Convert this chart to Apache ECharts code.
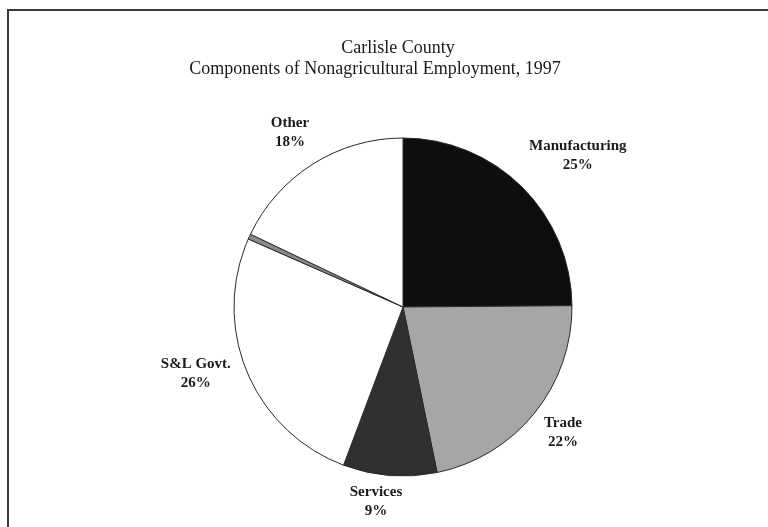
<html>
<head>
    <meta charset="utf-8">
    <title>Carlisle County</title>
    <script src="https://cdn.jsdelivr.net/npm/echarts@6/dist/echarts.min.js"></script>
    <style>
        html, body { margin: 0; padding: 0; background: #fff; }
        #main { width: 768px; height: 527px; }
    </style>
</head>
<body>
    <div id="main"></div>
    <script type="text/javascript">
        // data (percent of nonagricultural employment)
        var categories = ['Manufacturing', 'Trade', 'Services', 'S&L Govt.', 'Unallocated', 'Other'];
        var shares = [25, 22, 9, 26, 0.5, 18];
        var labelled = [true, true, true, true, false, true];

        var titleLines = ['Carlisle County', 'Components of Nonagricultural Employment, 1997'];

        // fills, in the same order as the slices
        var fills = ['#0e0e0e', '#a6a6a6', '#303030', '#ffffff', '#8a8a8a', '#ffffff'];
        // small hand nudges so the labels sit where the original ones were put
        var labelNudge = [[-12, -17], [-11, 7], [19, 6], [7, -7], [0, 0], [12, -15]];

        var myChart = echarts.init(document.getElementById('main'), null, { renderer: 'canvas' });

        var pieData = categories.map(function (name, i) {
            return {
                name: name,
                value: shares[i],
                itemStyle: { color: fills[i] },
                label: { show: labelled[i] }
            };
        });

        var option = {
            backgroundColor: '#ffffff',
            animation: false,
            title: [
                {
                    text: titleLines[0],
                    left: 393, top: 34, textAlign: 'center',
                    textStyle: { fontFamily: 'Liberation Serif', fontSize: 18, fontWeight: 'normal', color: '#1a1a1a' }
                },
                {
                    text: titleLines[1],
                    left: 370, top: 55, textAlign: 'center',
                    textStyle: { fontFamily: 'Liberation Serif', fontSize: 18, fontWeight: 'normal', color: '#1a1a1a' }
                }
            ],
            graphic: [
                {
                    type: 'rect',
                    shape: { x: 8, y: 10, width: 900, height: 700 },
                    style: { fill: 'none', stroke: '#3a3a3a', lineWidth: 2 },
                    silent: true
                }
            ],
            series: [
                {
                    type: 'pie',
                    center: [403, 307],
                    radius: 169,
                    startAngle: 90,
                    clockwise: true,
                    avoidLabelOverlap: false,
                    data: pieData,
                    itemStyle: { borderColor: '#2a2a2a', borderWidth: 1 },
                    label: {
                        position: 'outside',
                        formatter: function (p) { return p.name + '\n' + Math.round(p.percent) + '%'; },
                        fontFamily: 'Liberation Serif',
                        fontWeight: 'bold',
                        fontSize: 15,
                        lineHeight: 19,
                        color: '#1a1a1a'
                    },
                    labelLine: { show: false, length: 20, length2: 0 },
                    labelLayout: function (p) {
                        var r = p.labelRect;
                        var n = labelNudge[p.dataIndex] || [0, 0];
                        return {
                            x: r.x + r.width / 2 + n[0],
                            y: r.y + r.height / 2 + n[1],
                            align: 'center',
                            verticalAlign: 'middle'
                        };
                    },
                    emphasis: { disabled: true }
                }
            ]
        };
        myChart.setOption(option);
    </script>
</body>
</html>
